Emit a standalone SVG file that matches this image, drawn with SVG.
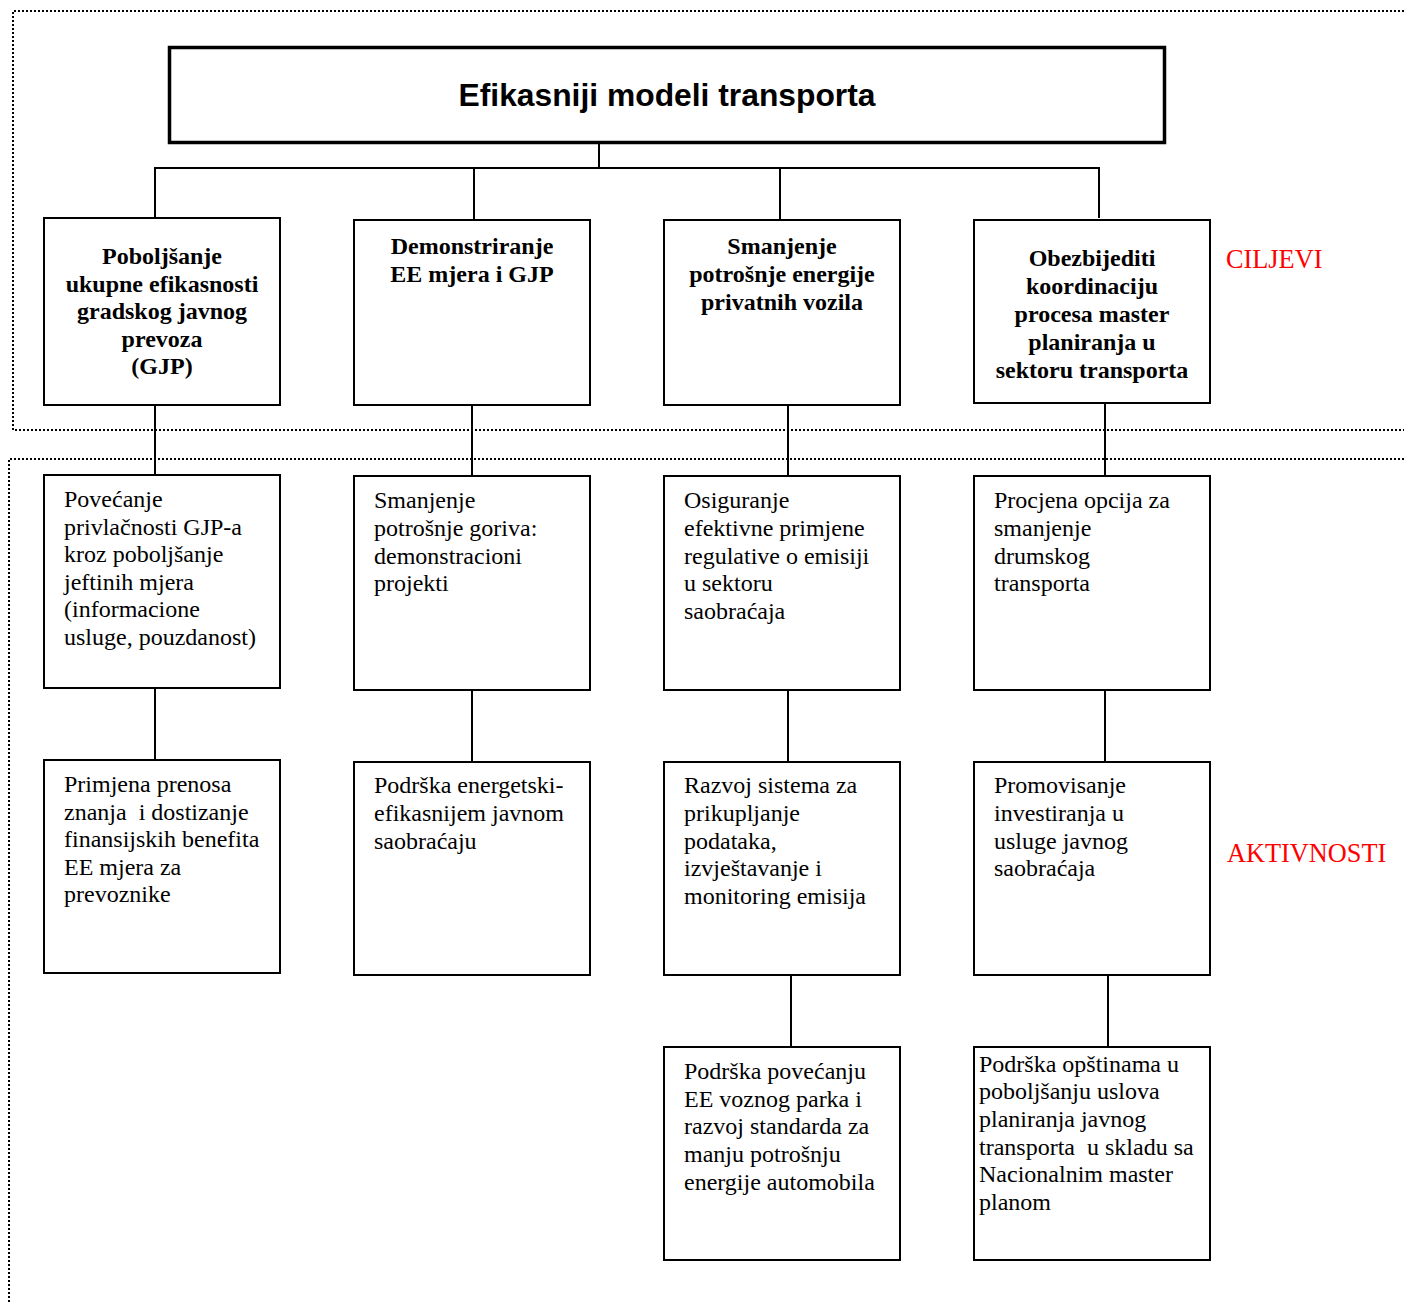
<svg xmlns="http://www.w3.org/2000/svg" width="1404" height="1304" viewBox="0 0 1404 1304">
<style>
.frame{fill:none;stroke:#000;stroke-width:2;stroke-dasharray:2 2}
.box{fill:#fff;stroke:#000;stroke-width:2}
.hdr{fill:#fff;stroke:#000;stroke-width:3.5}
.ln{fill:none;stroke:#000;stroke-width:2}
.title{font-family:"Liberation Sans",Arial,sans-serif;font-weight:bold;font-size:31.8px;text-anchor:middle;fill:#000}
.goal{font-family:"Liberation Serif","Times New Roman",serif;font-weight:bold;font-size:24px;text-anchor:middle;fill:#000}
.act{font-family:"Liberation Serif","Times New Roman",serif;font-size:24px;fill:#000}
.lbl{font-family:"Liberation Serif","Times New Roman",serif;font-size:26.3px;fill:#ff0000}
</style>
<g id="frames">
<path class="frame" d="M1404,11 H13 V430 H1404"/>
<path class="frame" d="M1404,459 H9 V1304"/>
</g>
<g id="connectors">
<path class="ln" d="M599,143 V168 M155,218 V168 H1099 V218 M474,168 V220 M780,168 V220"/>
<path class="ln" d="M155,405 V475 M472,405 V476 M788,405 V476 M1105,403 V476"/>
<path class="ln" d="M155,688 V760 M472,690 V762 M788,690 V762 M1105,690 V762"/>
<path class="ln" d="M791,975 V1047 M1108,975 V1047"/>
</g>
<g id="header">
<rect class="hdr" x="169.5" y="47.5" width="995" height="95"/>
<text class="title" x="667" y="106">Efikasniji modeli transporta</text>
</g>
<g id="goal1">
<rect class="box" x="44" y="218" width="236" height="187"/>
<text class="goal"><tspan x="162" y="264">Poboljšanje</tspan><tspan x="162" y="292">ukupne efikasnosti</tspan><tspan x="162" y="319">gradskog javnog</tspan><tspan x="162" y="347">prevoza</tspan><tspan x="162" y="374">(GJP)</tspan></text>
</g>
<g id="goal2">
<rect class="box" x="354" y="220" width="236" height="185"/>
<text class="goal"><tspan x="472" y="254">Demonstriranje</tspan><tspan x="472" y="282">EE mjera i GJP</tspan></text>
</g>
<g id="goal3">
<rect class="box" x="664" y="220" width="236" height="185"/>
<text class="goal"><tspan x="782" y="254">Smanjenje</tspan><tspan x="782" y="282">potrošnje energije</tspan><tspan x="782" y="310">privatnih vozila</tspan></text>
</g>
<g id="goal4">
<rect class="box" x="974" y="220" width="236" height="183"/>
<text class="goal"><tspan x="1092" y="266">Obezbijediti</tspan><tspan x="1092" y="294">koordinaciju</tspan><tspan x="1092" y="322">procesa master</tspan><tspan x="1092" y="350">planiranja u</tspan><tspan x="1092" y="378">sektoru transporta</tspan></text>
</g>
<g id="label-ciljevi"><text class="lbl" x="1226" y="268">CILJEVI</text></g>
<g id="label-aktivnosti"><text class="lbl" x="1227" y="862">AKTIVNOSTI</text></g>
<g id="act1a">
<rect class="box" x="44" y="475" width="236" height="213"/>
<text class="act"><tspan x="64" y="507">Povećanje</tspan><tspan x="64" y="535">privlačnosti GJP-a</tspan><tspan x="64" y="562">kroz poboljšanje</tspan><tspan x="64" y="590">jeftinih mjera</tspan><tspan x="64" y="617">(informacione</tspan><tspan x="64" y="645">usluge, pouzdanost)</tspan></text>
</g>
<g id="act2a">
<rect class="box" x="354" y="476" width="236" height="214"/>
<text class="act"><tspan x="374" y="508">Smanjenje</tspan><tspan x="374" y="536">potrošnje goriva:</tspan><tspan x="374" y="564">demonstracioni</tspan><tspan x="374" y="591">projekti</tspan></text>
</g>
<g id="act3a">
<rect class="box" x="664" y="476" width="236" height="214"/>
<text class="act"><tspan x="684" y="508">Osiguranje</tspan><tspan x="684" y="536">efektivne primjene</tspan><tspan x="684" y="564">regulative o emisiji</tspan><tspan x="684" y="591">u sektoru</tspan><tspan x="684" y="619">saobraćaja</tspan></text>
</g>
<g id="act4a">
<rect class="box" x="974" y="476" width="236" height="214"/>
<text class="act"><tspan x="994" y="508">Procjena opcija za</tspan><tspan x="994" y="536">smanjenje</tspan><tspan x="994" y="564">drumskog</tspan><tspan x="994" y="591">transporta</tspan></text>
</g>
<g id="act1b">
<rect class="box" x="44" y="760" width="236" height="213"/>
<text class="act"><tspan x="64" y="792">Primjena prenosa</tspan><tspan x="64" y="820" xml:space="preserve">znanja  i dostizanje</tspan><tspan x="64" y="847">finansijskih benefita</tspan><tspan x="64" y="875">EE mjera za</tspan><tspan x="64" y="902">prevoznike</tspan></text>
</g>
<g id="act2b">
<rect class="box" x="354" y="762" width="236" height="213"/>
<text class="act"><tspan x="374" y="793">Podrška energetski-</tspan><tspan x="374" y="821">efikasnijem javnom</tspan><tspan x="374" y="849">saobraćaju</tspan></text>
</g>
<g id="act3b">
<rect class="box" x="664" y="762" width="236" height="213"/>
<text class="act"><tspan x="684" y="793">Razvoj sistema za</tspan><tspan x="684" y="821">prikupljanje</tspan><tspan x="684" y="849">podataka,</tspan><tspan x="684" y="876">izvještavanje i</tspan><tspan x="684" y="904">monitoring emisija</tspan></text>
</g>
<g id="act4b">
<rect class="box" x="974" y="762" width="236" height="213"/>
<text class="act"><tspan x="994" y="793">Promovisanje</tspan><tspan x="994" y="821">investiranja u</tspan><tspan x="994" y="849">usluge javnog</tspan><tspan x="994" y="876">saobraćaja</tspan></text>
</g>
<g id="act3c">
<rect class="box" x="664" y="1047" width="236" height="213"/>
<text class="act"><tspan x="684" y="1079">Podrška povećanju</tspan><tspan x="684" y="1107">EE voznog parka i</tspan><tspan x="684" y="1134">razvoj standarda za</tspan><tspan x="684" y="1162">manju potrošnju</tspan><tspan x="684" y="1190">energije automobila</tspan></text>
</g>
<g id="act4c">
<rect class="box" x="974" y="1047" width="236" height="213"/>
<text class="act"><tspan x="979" y="1072">Podrška opštinama u</tspan><tspan x="979" y="1099">poboljšanju uslova</tspan><tspan x="979" y="1127">planiranja javnog</tspan><tspan x="979" y="1155" xml:space="preserve">transporta  u skladu sa</tspan><tspan x="979" y="1182">Nacionalnim master</tspan><tspan x="979" y="1210">planom</tspan></text>
</g>
</svg>
